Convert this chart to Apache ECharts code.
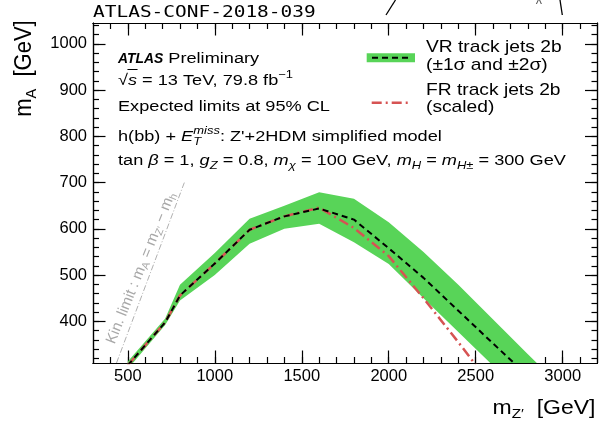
<!DOCTYPE html>
<html>
<head>
<meta charset="utf-8">
<script src="https://cdn.jsdelivr.net/npm/echarts@6/dist/echarts.min.js"></script>
<style>
html, body { margin: 0; padding: 0; background: #fff; }
#chart { width: 599px; height: 422px; }
</style>
</head>
<body>
<div id="chart"></div>
<script>
// VR track jets 2b, expected limit + band
const massZ = [500, 715, 800, 1000, 1200, 1400, 1600, 1800, 2000, 2200, 2400, 2600, 2800, 3000]
const expected = [305, 398, 456, 525, 598, 627, 644, 620, 558, 494, 423, 352, 282, 212]
const bandLow = [297, 392, 445, 500, 568, 600, 611, 571, 524, 450, 377, 304, 231, 160]
const bandHigh = [313, 406, 479, 548, 622, 650, 679, 665, 614, 550, 479, 404, 329, 255]

// FR track jets 2b (scaled)
const massZFr = [500, 715, 800, 1000, 1200, 1400, 1600, 1800, 2000, 2200, 2400, 2500]
const frScaled = [305, 398, 456, 525, 598, 627, 646, 602, 541, 450, 355, 306]

// kinematic limit mA = mZ' - mh
const kinX = [435, 825]
const kinY = [310, 700]

const xLabels = [500, 1000, 1500, 2000, 2500, 3000]
const yLabels = [400, 500, 600, 700, 800, 900, 1000]

const xMin = 300, xMax = 3200, yMin = 310, yMax = 1045

const xMinorTicks = []
for (let v = 400; v < xMax; v += 100) xMinorTicks.push(v)
const yMinorTicks = []
for (let v = 320; v < yMax; v += 20) yMinorTicks.push(v)

const pairs = (xs, ys) => xs.map((x, i) => [x, ys[i]])

const FONT = 'Liberation Sans'
const STRETCH = 1.18
const FS = 15.4

// text widths, used to put the T under "miss" and the bar over s
const ctx = document.createElement('canvas').getContext('2d')
const textWidth = (str, font) => { ctx.font = font; return ctx.measureText(str).width }

const axisBase = (min, max) => ({
  type: 'value', min, max,
  splitLine: { show: false },
  axisLine: { show: true, onZero: false, lineStyle: { color: '#000', width: 1.2 } }
})

const makeX = (pos, ticks, len, labels) => ({
  ...axisBase(xMin, xMax),
  position: pos,
  axisTick: { show: true, inside: true, length: len, customValues: ticks, lineStyle: { color: '#000', width: 1.2 } },
  axisLabel: labels
    ? { show: true, customValues: ticks, formatter: v => String(v), color: '#000', fontFamily: FONT, fontSize: 16.5, margin: 5 }
    : { show: false }
})

const makeY = (pos, ticks, len, labels) => ({
  ...axisBase(yMin, yMax),
  position: pos,
  axisTick: { show: true, inside: true, length: len, customValues: ticks, lineStyle: { color: '#000', width: 1.2 } },
  axisLabel: labels
    ? { show: true, customValues: ticks, formatter: v => String(v), color: '#000', fontFamily: FONT, fontSize: 16.5, margin: 6 }
    : { show: false }
})

const richFor = (fs, sfs, line) => ({
  n: { fontFamily: FONT, fontSize: fs, lineHeight: line, fill: '#000' },
  i: { fontFamily: FONT, fontSize: fs, lineHeight: line, fontStyle: 'italic', fill: '#000' },
  b: { fontFamily: FONT, fontSize: fs, lineHeight: line, fontStyle: 'italic', fontWeight: 'bold', fill: '#000' },
  sub: { fontFamily: FONT, fontSize: sfs, lineHeight: sfs, verticalAlign: 'bottom', fill: '#000' },
  isub: { fontFamily: FONT, fontSize: sfs, lineHeight: sfs, verticalAlign: 'bottom', fontStyle: 'italic', fill: '#000' },
  sup: { fontFamily: FONT, fontSize: sfs, lineHeight: sfs, verticalAlign: 'top', fill: '#000' },
  isup: { fontFamily: FONT, fontSize: sfs, lineHeight: sfs, verticalAlign: 'top', fontStyle: 'italic', fill: '#000' }
})
const rich = richFor(FS, 11, 22)
const legendRich = richFor(17, 12, 22)

const label = (x, y, text, opts) => ({
  type: 'text', x, y, z: 100, scaleX: (opts && opts.sx) || STRETCH, silent: true,
  style: { text, rich: (opts && opts.rich) || rich, align: 'left', verticalAlign: 'middle' }
})

const eX = 118 + STRETCH * (textWidth('h(bb) + ', FS + 'px "' + FONT + '"') + textWidth('E', 'italic ' + FS + 'px "' + FONT + '"'))
const rootW = textWidth('√', FS + 'px "' + FONT + '"') * STRETCH
const sW = textWidth('s', 'italic ' + FS + 'px "' + FONT + '"') * STRETCH

const chart = echarts.init(document.getElementById('chart'))

chart.setOption({
  animation: false,
  backgroundColor: '#fff',
  grid: { left: 93, right: 1.5, top: 23, bottom: 59, containLabel: false, outerBoundsMode: 'none' },
  xAxis: [
    makeX('bottom', xLabels, 12.5, true),
    makeX('bottom', xMinorTicks, 6, false),
    makeX('top', xLabels, 12.5, false),
    makeX('top', xMinorTicks, 6, false)
  ],
  yAxis: [
    makeY('left', yLabels, 12.5, true),
    makeY('left', yMinorTicks, 6, false),
    makeY('right', yLabels, 12.5, false),
    makeY('right', yMinorTicks, 6, false)
  ],
  series: [
    {
      // band as one polygon: upper edge then lower edge back
      name: 'band', type: 'custom', clip: true,
      data: massZ.map((x, i) => [x, bandLow[i], bandHigh[i]]),
      encode: { x: 0, y: [1, 2] },
      renderItem: (params, api) => {
        if (params.dataIndex !== 0) return
        const up = massZ.map((x, i) => api.coord([x, bandHigh[i]]))
        const down = massZ.map((x, i) => api.coord([x, bandLow[i]])).reverse()
        return {
          type: 'polygon',
          shape: { points: up.concat(down) },
          style: { fill: '#58d458' }
        }
      }
    },
    {
      name: 'kin', type: 'line', symbol: 'none',
      data: pairs(kinX, kinY),
      lineStyle: { color: '#b0b0b0', width: 1, type: [6, 2, 1, 2] }
    },
    {
      name: 'FR track jets 2b', type: 'line', symbol: 'none',
      data: pairs(massZFr, frScaled),
      lineStyle: { color: '#d65353', width: 2.5, type: [10, 4, 2, 4] }
    },
    {
      name: 'VR track jets 2b', type: 'line', symbol: 'none',
      data: pairs(massZ, expected),
      lineStyle: { color: '#000', width: 2, type: [6, 4] }
    }
  ],
  graphic: [
    // conf note tag
    {
      type: 'text', x: 93, y: 12.6, scaleX: STRETCH, silent: true,
      style: { text: 'ATLAS-CONF-2018-039', fontFamily: 'DejaVu Sans Mono', fontSize: 16.5, fill: '#000', align: 'left', verticalAlign: 'middle' }
    },
    // bits of the diagram above
    { type: 'line', shape: { x1: 386, y1: 15, x2: 395.5, y2: 0 }, style: { stroke: '#000', lineWidth: 1.3 } },
    { type: 'line', shape: { x1: 560, y1: 0, x2: 562.3, y2: 15 }, style: { stroke: '#000', lineWidth: 1.3 } },
    {
      type: 'text', x: 539, y: -2, silent: true,
      style: { text: 'χ', fontFamily: FONT, fontSize: 12, fill: '#555', align: 'center', verticalAlign: 'middle' }
    },

    // text block
    label(118, 59, '{b|ATLAS}', { sx: 0.9 }),
    label(168.3, 59, '{n|Preliminary}'),
    label(118, 80.7, '{n|√}{i|s}{n| = 13 TeV, 79.8 fb}{sup|−1}'),
    { type: 'line', z: 100, shape: { x1: 118 + rootW - 0.5, y1: 69.5, x2: 118 + rootW + sW + 0.5, y2: 69.5 }, style: { stroke: '#000', lineWidth: 1 } },
    label(118, 106.4, '{n|Expected limits at 95% CL}'),
    label(118, 136.7, '{n|h(bb) + }{i|E}{isup|miss}{n|: Z\'+2HDM simplified model}'),
    label(eX, 142.2, '{isub|T}'),
    label(118, 160.7, '{n|tan }{i|β}{n| = 1, }{i|g}{isub|Z}{n| = 0.8, }{i|m}{isub|χ}{n| = 100 GeV, }{i|m}{isub|H}{n| = }{i|m}{isub|H±}{n| = 300 GeV}'),

    // legend
    { type: 'rect', shape: { x: 366.7, y: 53.3, width: 48.3, height: 9 }, style: { fill: '#58d458' } },
    { type: 'line', shape: { x1: 372, y1: 57.8, x2: 410, y2: 57.8 }, style: { stroke: '#000', lineWidth: 2, lineDash: [6, 4] } },
    { type: 'line', shape: { x1: 371.7, y1: 102.7, x2: 410, y2: 102.7 }, style: { stroke: '#d65353', lineWidth: 2.5, lineDash: [10, 4, 2, 4] } },
    label(426, 47.3, '{n|VR track jets 2b}', { sx: 1.13, rich: legendRich }),
    label(426, 65.8, '{n|(±1σ and ±2σ)}', { sx: 1.13, rich: legendRich }),
    label(426, 90.1, '{n|FR track jets 2b}', { sx: 1.13, rich: legendRich }),
    label(426, 107.3, '{n|(scaled)}', { sx: 1.13, rich: legendRich }),

    // kinematic limit text
    {
      type: 'text', x: 141, y: 268, rotation: 68 * Math.PI / 180, silent: true,
      style: {
        text: '{g|Kin. limit : m}{gs|A}{g| = m}{gs|Z\'}{g| − m}{gs|h}',
        align: 'center', verticalAlign: 'middle',
        rich: {
          g: { fontFamily: FONT, fontSize: 15, lineHeight: 19, fill: '#a8a8a8' },
          gs: { fontFamily: FONT, fontSize: 10.5, lineHeight: 10, verticalAlign: 'bottom', fill: '#a8a8a8' }
        }
      }
    },

    // axis titles
    {
      type: 'text', x: 595.5, y: 408.2, scaleX: STRETCH, silent: true,
      style: {
        text: '{t|m}{ts|Z′}{t|  [GeV]}', align: 'right', verticalAlign: 'middle',
        rich: {
          t: { fontFamily: FONT, fontSize: 19.5, lineHeight: 26, fill: '#000' },
          ts: { fontFamily: FONT, fontSize: 13, lineHeight: 13, verticalAlign: 'bottom', fill: '#000' }
        }
      }
    },
    {
      type: 'text', x: 24.5, y: 68.5, rotation: Math.PI / 2, scaleY: 1.05, silent: true,
      style: {
        text: '{t|m}{ts|A}{t|  [GeV]}', align: 'center', verticalAlign: 'middle',
        rich: {
          t: { fontFamily: FONT, fontSize: 22, lineHeight: 28, fill: '#000' },
          ts: { fontFamily: FONT, fontSize: 14.5, lineHeight: 14, verticalAlign: 'bottom', fill: '#000' }
        }
      }
    }
  ]
})
</script>
</body>
</html>
